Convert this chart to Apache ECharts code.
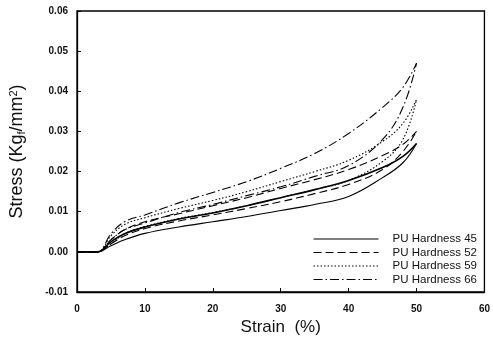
<!DOCTYPE html>
<html>
<head>
<meta charset="utf-8">
<script src="https://cdn.jsdelivr.net/npm/echarts@6/dist/echarts.min.js"></script>
<style>html,body{margin:0;padding:0;background:#fff}#c{width:493px;height:341px}</style>
</head>
<body>
<div id="c"></div>
<script>
// Strain (%) sample points
const strain = [0, 3, 5, 7, 10, 15, 20, 25, 30, 35, 40, 45, 48, 50];
// Stress (Kgf/mm2) - loading (upper) and unloading (lower) curves
const pu45Upper = [0, 0, 0.0025, 0.0045, 0.0062, 0.0082, 0.0097, 0.0115, 0.0135, 0.0155, 0.0178, 0.0210, 0.0238, 0.0270];
const pu45Lower = [0, 0, 0.0015, 0.0030, 0.0046, 0.0062, 0.0075, 0.0088, 0.0103, 0.0118, 0.0138, 0.0185, 0.0222, 0.0270];
const pu52Upper = [0, 0, 0.0030, 0.0055, 0.0075, 0.0095, 0.0115, 0.0135, 0.0158, 0.0180, 0.0205, 0.0240, 0.0268, 0.0300];
const pu52Lower = [0, 0, 0.0020, 0.0040, 0.0058, 0.0077, 0.0092, 0.0108, 0.0125, 0.0145, 0.0168, 0.0205, 0.0250, 0.0300];
const pu59Upper = [0, 0, 0.0040, 0.0068, 0.0085, 0.0108, 0.0128, 0.0150, 0.0175, 0.0200, 0.0228, 0.0275, 0.0320, 0.0380];
const pu59Lower = [0, 0, 0.0020, 0.0045, 0.0063, 0.0083, 0.0098, 0.0115, 0.0135, 0.0155, 0.0178, 0.0225, 0.0280, 0.0380];
const pu66Upper = [0, 0, 0.0045, 0.0075, 0.0092, 0.0122, 0.0148, 0.0175, 0.0208, 0.0245, 0.0295, 0.0360, 0.0410, 0.0470];
const pu66Lower = [0, 0, 0.0030, 0.0055, 0.0072, 0.0098, 0.0118, 0.0140, 0.0162, 0.0188, 0.0215, 0.0280, 0.0360, 0.0470];
const legendNames = ['PU Hardness 45', 'PU Hardness 52', 'PU Hardness 59', 'PU Hardness 66'];
const xTicks = [0, 10, 20, 30, 40, 50, 60];
const yTicks = [-0.01, 0, 0.01, 0.02, 0.03, 0.04, 0.05, 0.06];

const pair = (arr) => strain.map((x, i) => [x, arr[i]]);
const styles = [
  {type: 'solid'},
  {type: [8, 4]},
  {type: [1.5, 2]},
  {type: [9, 3, 1.5, 3]}
];
const data = [[pu45Upper, pu45Lower], [pu52Upper, pu52Lower], [pu59Upper, pu59Lower], [pu66Upper, pu66Lower]];
const series = [];
data.forEach((p, k) => {
  p.forEach((arr, j) => {
    series.push({
      name: legendNames[k], type: 'line', data: pair(arr), smooth: 0.4,
      symbol: 'none', silent: true, color: '#000',
      lineStyle: {color: '#000', width: (k === 0 && j === 0) ? 1.6 : 1.1, type: styles[k].type}
    });
  });
});

const chart = echarts.init(document.getElementById('c'));
chart.setOption({
  animation: false,
  backgroundColor: '#fff',
  textStyle: {fontFamily: 'Liberation Sans'},
  grid: {left: 76, right: 4, top: 11, bottom: 49, show: true, borderColor: '#000', borderWidth: 1.3},
  legend: {
    show: true,
    data: legendNames, orient: 'vertical', left: 308, top: 228,
    itemWidth: 65, itemHeight: 10, itemGap: 1.5,
    itemStyle: {color: 'transparent', borderWidth: 0, opacity: 0},
    lineStyle: {width: 1.1},
    textStyle: {fontSize: 11.5, lineHeight: 12, color: '#111', fontFamily: 'Liberation Sans', padding: [0, 0, 0, 9]}
  },
  xAxis: {
    type: 'value', min: xTicks[0], max: xTicks[xTicks.length - 1], interval: 10,
    name: 'Strain  (%)', nameLocation: 'middle', nameGap: 27,
    nameTextStyle: {fontSize: 17, color: '#111', fontFamily: 'Liberation Sans'},
    axisLine: {onZero: false, lineStyle: {color: '#000', width: 1.3}},
    axisTick: {inside: true, length: 4, lineStyle: {color: '#000'}},
    axisLabel: {fontSize: 10, color: '#111', margin: 12, fontWeight: 'bold'},
    splitLine: {show: false}
  },
  yAxis: {
    type: 'value', min: yTicks[0], max: yTicks[yTicks.length - 1], interval: 0.01,
    name: 'Stress (Kg{sub|f}/mm{sup|2})', nameLocation: 'middle', nameGap: 50,
    nameTextStyle: {fontSize: 18, color: '#111', fontFamily: 'Liberation Sans',
      rich: {sub: {fontSize: 11, verticalAlign: 'bottom', padding: [8, 0, 0, 0], fontFamily: 'Liberation Sans'},
             sup: {fontSize: 11, verticalAlign: 'top', padding: [0, 0, 8, 0], fontFamily: 'Liberation Sans'}}},
    axisLine: {onZero: false, lineStyle: {color: '#000', width: 1.3}},
    axisTick: {inside: true, length: 4, lineStyle: {color: '#000'}},
    axisLabel: {fontSize: 10, color: '#111', margin: 9, fontWeight: 'bold', formatter: v => v.toFixed(2)},
    splitLine: {show: false}
  },
  series: series
});
</script>
</body>
</html>
